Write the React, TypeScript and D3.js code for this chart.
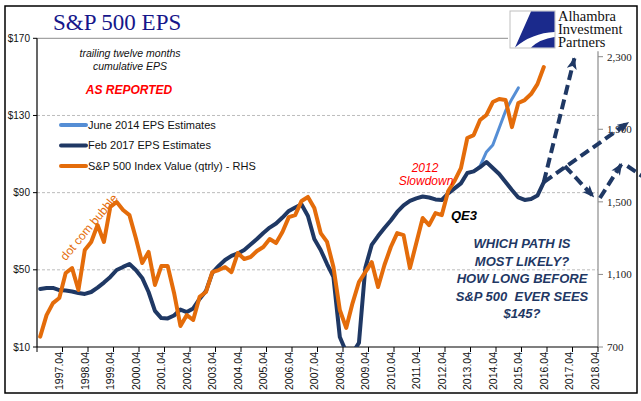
import React from "react";
import * as d3 from "d3";

// ---------- DATA ----------
// quarterly categories 1997Q1 .. 2018Q4
const quarters: string[] = d3.range(88).map((i) => `${1997 + Math.floor(i / 4)}Q${(i % 4) + 1}`);
const tickLabels: string[] = d3.range(1997, 2019).map((y) => `${y}.04`);

const leftTicks = [10, 50, 90, 130, 170];
const rightTicks = [700, 1100, 1500, 1900, 2300];
const gridTicks = [50, 90, 130];

// S&P 500 index value (qtrly) - RHS, from 1997Q1
const sp500: number[] = [
  757, 876, 942, 970, 1108, 1135, 1014, 1235, 1279, 1372,
  1279, 1472, 1499, 1455, 1427, 1301, 1163, 1224, 1042, 1146,
  1146, 998, 816, 876, 849, 976, 1003, 1113, 1124, 1141,
  1113, 1218, 1185, 1196, 1229, 1251, 1295, 1273, 1334, 1416,
  1427, 1505, 1527, 1466, 1328, 1279, 1141, 904, 805, 942,
  1058, 1113, 1168, 1031, 1152, 1251, 1328, 1317, 1135, 1273,
  1411, 1372, 1438, 1427, 1560, 1615, 1686, 1852, 1868, 1951,
  1979, 2050, 2067, 2061, 1912, 2045, 2061, 2094, 2149, 2243,
];

// Feb 2017 EPS estimates (trailing twelve months, as reported), from 1997Q1
const epsFeb2017: number[] = [
  40.1, 40.6, 40.6, 39.5, 39.3, 38.8, 38.0, 37.5, 38.5, 40.8,
  43.4, 46.3, 49.9, 51.5, 53.0, 49.9, 45.8, 38.5, 28.7, 25.0,
  24.8, 26.3, 29.4, 28.1, 30.0, 34.9, 39.0, 48.4, 52.0, 55.1,
  57.2, 58.5, 60.3, 63.1, 66.0, 69.1, 71.9, 74.0, 77.1, 80.5,
  82.3, 83.9, 77.9, 66.0, 60.3, 53.0, 46.3, 15.2, 7.4, 7.0,
  12.1, 51.0, 62.9, 67.5, 71.7, 75.6, 80.0, 83.4, 85.7, 87.0,
  88.0, 87.5, 86.5, 86.2, 89.6, 92.2, 94.8, 100.2, 101.0, 103.2,
  105.9, 102.8, 99.7, 95.5, 91.4, 87.5, 86.2, 86.7, 88.5, 95.5,
];

// June 2014 EPS estimates, starting at quarter index 68 (2014Q1)
const june2014Start = 68;
const epsJune2014: number[] = [101.0, 103.8, 111.1, 114.7, 123.5, 132.3, 138.6, 144.3];

// Scenario arrows: [quarter position, EPS $] start -> end
const scenarioArrows: { from: [number, number]; to: [number, number]; head: boolean }[] = [
  { from: [79, 95.5], to: [83.8, 159.7], head: true },
  { from: [79, 95.5], to: [92.25, 126.3], head: true },
  { from: [82.3, 103.8], to: [86.8, 87.9], head: true },
  { from: [87.8, 87.2], to: [91.2, 104.9], head: true },
  { from: [92.1, 103.8], to: [95.2, 96.8], head: false },
];

const legendItems = [
  { label: "June 2014 EPS Estimates", color: "#558ED5" },
  { label: "Feb 2017 EPS Estimates", color: "#1F3864" },
  { label: "S&P 500 Index Value (qtrly) - RHS", color: "#E46C0A" },
];

const questionLines = ["WHICH PATH IS", "MOST LIKELY?", "HOW LONG BEFORE", "S&P 500  EVER SEES", "$145?"];
const logoLines = ["Alhambra", "Investment", "Partners"];

// ---------- CHART ----------
const W = 641;
const H = 401;
const ORANGE = "#E46C0A";
const NAVY = "#1F3864";
const LIGHT = "#558ED5";

export default function App() {
  const x = d3.scaleLinear().domain([0, quarters.length]).range([37, 598]);
  const xq = (i: number) => x(i + 0.5);
  const yL = d3.scaleLinear().domain([10, 170]).range([347, 38.3]);
  const yR = d3.scaleLinear().domain([700, 2300]).range([347, 56.7]);

  const lineL = d3
    .line<number>()
    .x((_, i) => xq(i))
    .y((d) => yL(d));
  const lineJune = d3
    .line<number>()
    .x((_, i) => xq(i + june2014Start))
    .y((d) => yL(d));
  const lineR = d3
    .line<number>()
    .x((_, i) => xq(i))
    .y((d) => yR(d));

  const [xMin, xMax] = x.range();
  const [yBottom, yTop] = yL.range();

  return (
    <svg
      width={W}
      height={H}
      style={{ position: "absolute", left: 0, top: 0, background: "#fff" }}
      fontFamily="'Liberation Sans', Arial, sans-serif"
    >
      <defs>
        <clipPath id="plotClip">
          <rect x={xMin} y={0} width={xMax - xMin} height={yBottom} />
        </clipPath>
        <marker
          id="arrowHead"
          viewBox="0 0 12 10"
          refX={11}
          refY={5}
          markerWidth={12}
          markerHeight={10}
          markerUnits="userSpaceOnUse"
          orient="auto"
        >
          <path d="M0,0 L12,5 L0,10 L3,5 Z" fill={NAVY} />
        </marker>
      </defs>

      {/* frame */}
      <rect x={5} y={6} width={632} height={387} fill="none" stroke="#000" strokeWidth={1.5} />

      {/* title */}
      <text x={53} y={30} fontFamily="'Liberation Serif', 'DejaVu Serif', serif" fontSize={23} fill="#16168A">
        S&amp;P 500 EPS
      </text>

      {/* grid lines */}
      <line x1={xMin} x2={xMax} y1={yL(170)} y2={yL(170)} stroke="#8C8C8C" strokeWidth={1} />
      {gridTicks.map((t) => (
        <line
          key={t}
          x1={xMin}
          x2={xMax}
          y1={yL(t)}
          y2={yL(t)}
          stroke="#ABABAB"
          strokeWidth={0.8}
          strokeDasharray="3,2"
        />
      ))}

      {/* left axis */}
      <line x1={xMin} x2={xMin} y1={yTop} y2={yBottom} stroke="#000" strokeWidth={1.2} />
      {leftTicks.map((t) => (
        <g key={t}>
          <line x1={xMin - 4} x2={xMin} y1={yL(t)} y2={yL(t)} stroke="#000" />
          <text x={30} y={yL(t)} dy="0.35em" textAnchor="end" fontSize={10} fill="#111">
            {`$${t}`}
          </text>
        </g>
      ))}

      {/* right axis */}
      <line x1={xMax} x2={xMax} y1={yR(2330)} y2={yR(700)} stroke="#8C8C8C" strokeWidth={1.2} />
      {rightTicks.map((t) => (
        <g key={t}>
          <line x1={xMax} x2={xMax + 5} y1={yR(t)} y2={yR(t)} stroke="#8C8C8C" />
          <text
            x={607}
            y={yR(t)}
            dy="0.35em"
            fontFamily="'Liberation Serif', serif"
            fontSize={11}
            fill="#222"
          >
            {d3.format(",")(t)}
          </text>
        </g>
      ))}

      {/* bottom axis */}
      <line x1={xMin} x2={xMax} y1={yBottom} y2={yBottom} stroke="#000" strokeWidth={1.2} />
      {d3.range(0, quarters.length + 1, 4).map((b) => (
        <line key={b} x1={x(b)} x2={x(b)} y1={yBottom} y2={yBottom + 5} stroke="#000" />
      ))}
      {tickLabels.map((lab, k) => {
        const i = 3 + k * 4;
        return (
          <text
            key={lab}
            transform={`translate(${xq(i)},352) rotate(-90)`}
            dy="0.35em"
            textAnchor="end"
            fontSize={10.5}
            fill="#111"
          >
            {lab}
          </text>
        );
      })}

      {/* series */}
      <g clipPath="url(#plotClip)">
        <path d={lineJune(epsJune2014) || ""} fill="none" stroke={LIGHT} strokeWidth={3} strokeLinejoin="round" strokeLinecap="round" />
        <path d={lineL(epsFeb2017) || ""} fill="none" stroke={NAVY} strokeWidth={4} strokeLinejoin="round" strokeLinecap="round" />
        <path d={lineR(sp500) || ""} fill="none" stroke={ORANGE} strokeWidth={4} strokeLinejoin="round" strokeLinecap="round" />
      </g>

      {/* scenario arrows */}
      {scenarioArrows.map((a, k) => (
        <line
          key={k}
          x1={xq(a.from[0])}
          y1={yL(a.from[1])}
          x2={xq(a.to[0])}
          y2={yL(a.to[1])}
          stroke={NAVY}
          strokeWidth={4}
          strokeDasharray="10,5"
          markerEnd={a.head ? "url(#arrowHead)" : undefined}
        />
      ))}

      {/* subtitle texts */}
      <text x={130} y={57} textAnchor="middle" fontStyle="italic" fontSize={10.5} fill="#111">
        trailing twelve months
      </text>
      <text x={130} y={70} textAnchor="middle" fontStyle="italic" fontSize={10.5} fill="#111">
        cumulative EPS
      </text>
      <text x={129} y={94} textAnchor="middle" fontStyle="italic" fontWeight="bold" fontSize={12} fill="#FF0000">
        AS REPORTED
      </text>

      {/* legend */}
      {legendItems.map((it, k) => {
        const cy = 125 + k * 20.5;
        return (
          <g key={it.label}>
            <line x1={61} x2={86} y1={cy} y2={cy} stroke={it.color} strokeWidth={4} strokeLinecap="round" />
            <text x={88} y={cy} dy="0.35em" fontSize={11} fill="#111">
              {it.label}
            </text>
          </g>
        );
      })}

      {/* annotations */}
      <text
        transform="translate(89,227) rotate(-50)"
        textAnchor="middle"
        dy="0.35em"
        fontSize={12}
        fill={ORANGE}
      >
        dot com bubble
      </text>
      <text x={425} y={172} textAnchor="middle" fontStyle="italic" fontSize={12} fill="#FF0000">
        2012
      </text>
      <text x={426} y={185} textAnchor="middle" fontStyle="italic" fontSize={12} fill="#FF0000">
        Slowdown
      </text>
      <text x={451} y={220} fontStyle="italic" fontWeight="bold" fontSize={13} fill="#000">
        QE3
      </text>
      {questionLines.map((l, k) => (
        <text
          key={k}
          x={522}
          y={248 + k * 17.5}
          textAnchor="middle"
          fontStyle="italic"
          fontWeight="bold"
          fontSize={13}
          fill={NAVY}
          style={{ whiteSpace: "pre" }}
        >
          {l}
        </text>
      ))}

      {/* logo */}
      <rect x={508} y={8} width={127} height={42} fill="#fff" />
      <g transform="translate(510,11)">
        <rect x={0} y={0} width={45} height={37} fill="#fff" stroke="#BFBFBF" strokeWidth={1} />
        <path d="M21,0.5 L44.5,0.5 L44.5,21 Q22,22 5,36.5 Z" fill="#1B2A8C" />
        <path d="M21,36.5 L44.5,36.5 L44.5,26 Q30,28 21,36.5 Z" fill="#1B2A8C" />
      </g>
      {logoLines.map((l, k) => (
        <text
          key={l}
          x={558}
          y={21 + k * 13}
          fontFamily="'Liberation Serif', serif"
          fontSize={14.5}
          fill="#111"
        >
          {l}
        </text>
      ))}
    </svg>
  );
}
